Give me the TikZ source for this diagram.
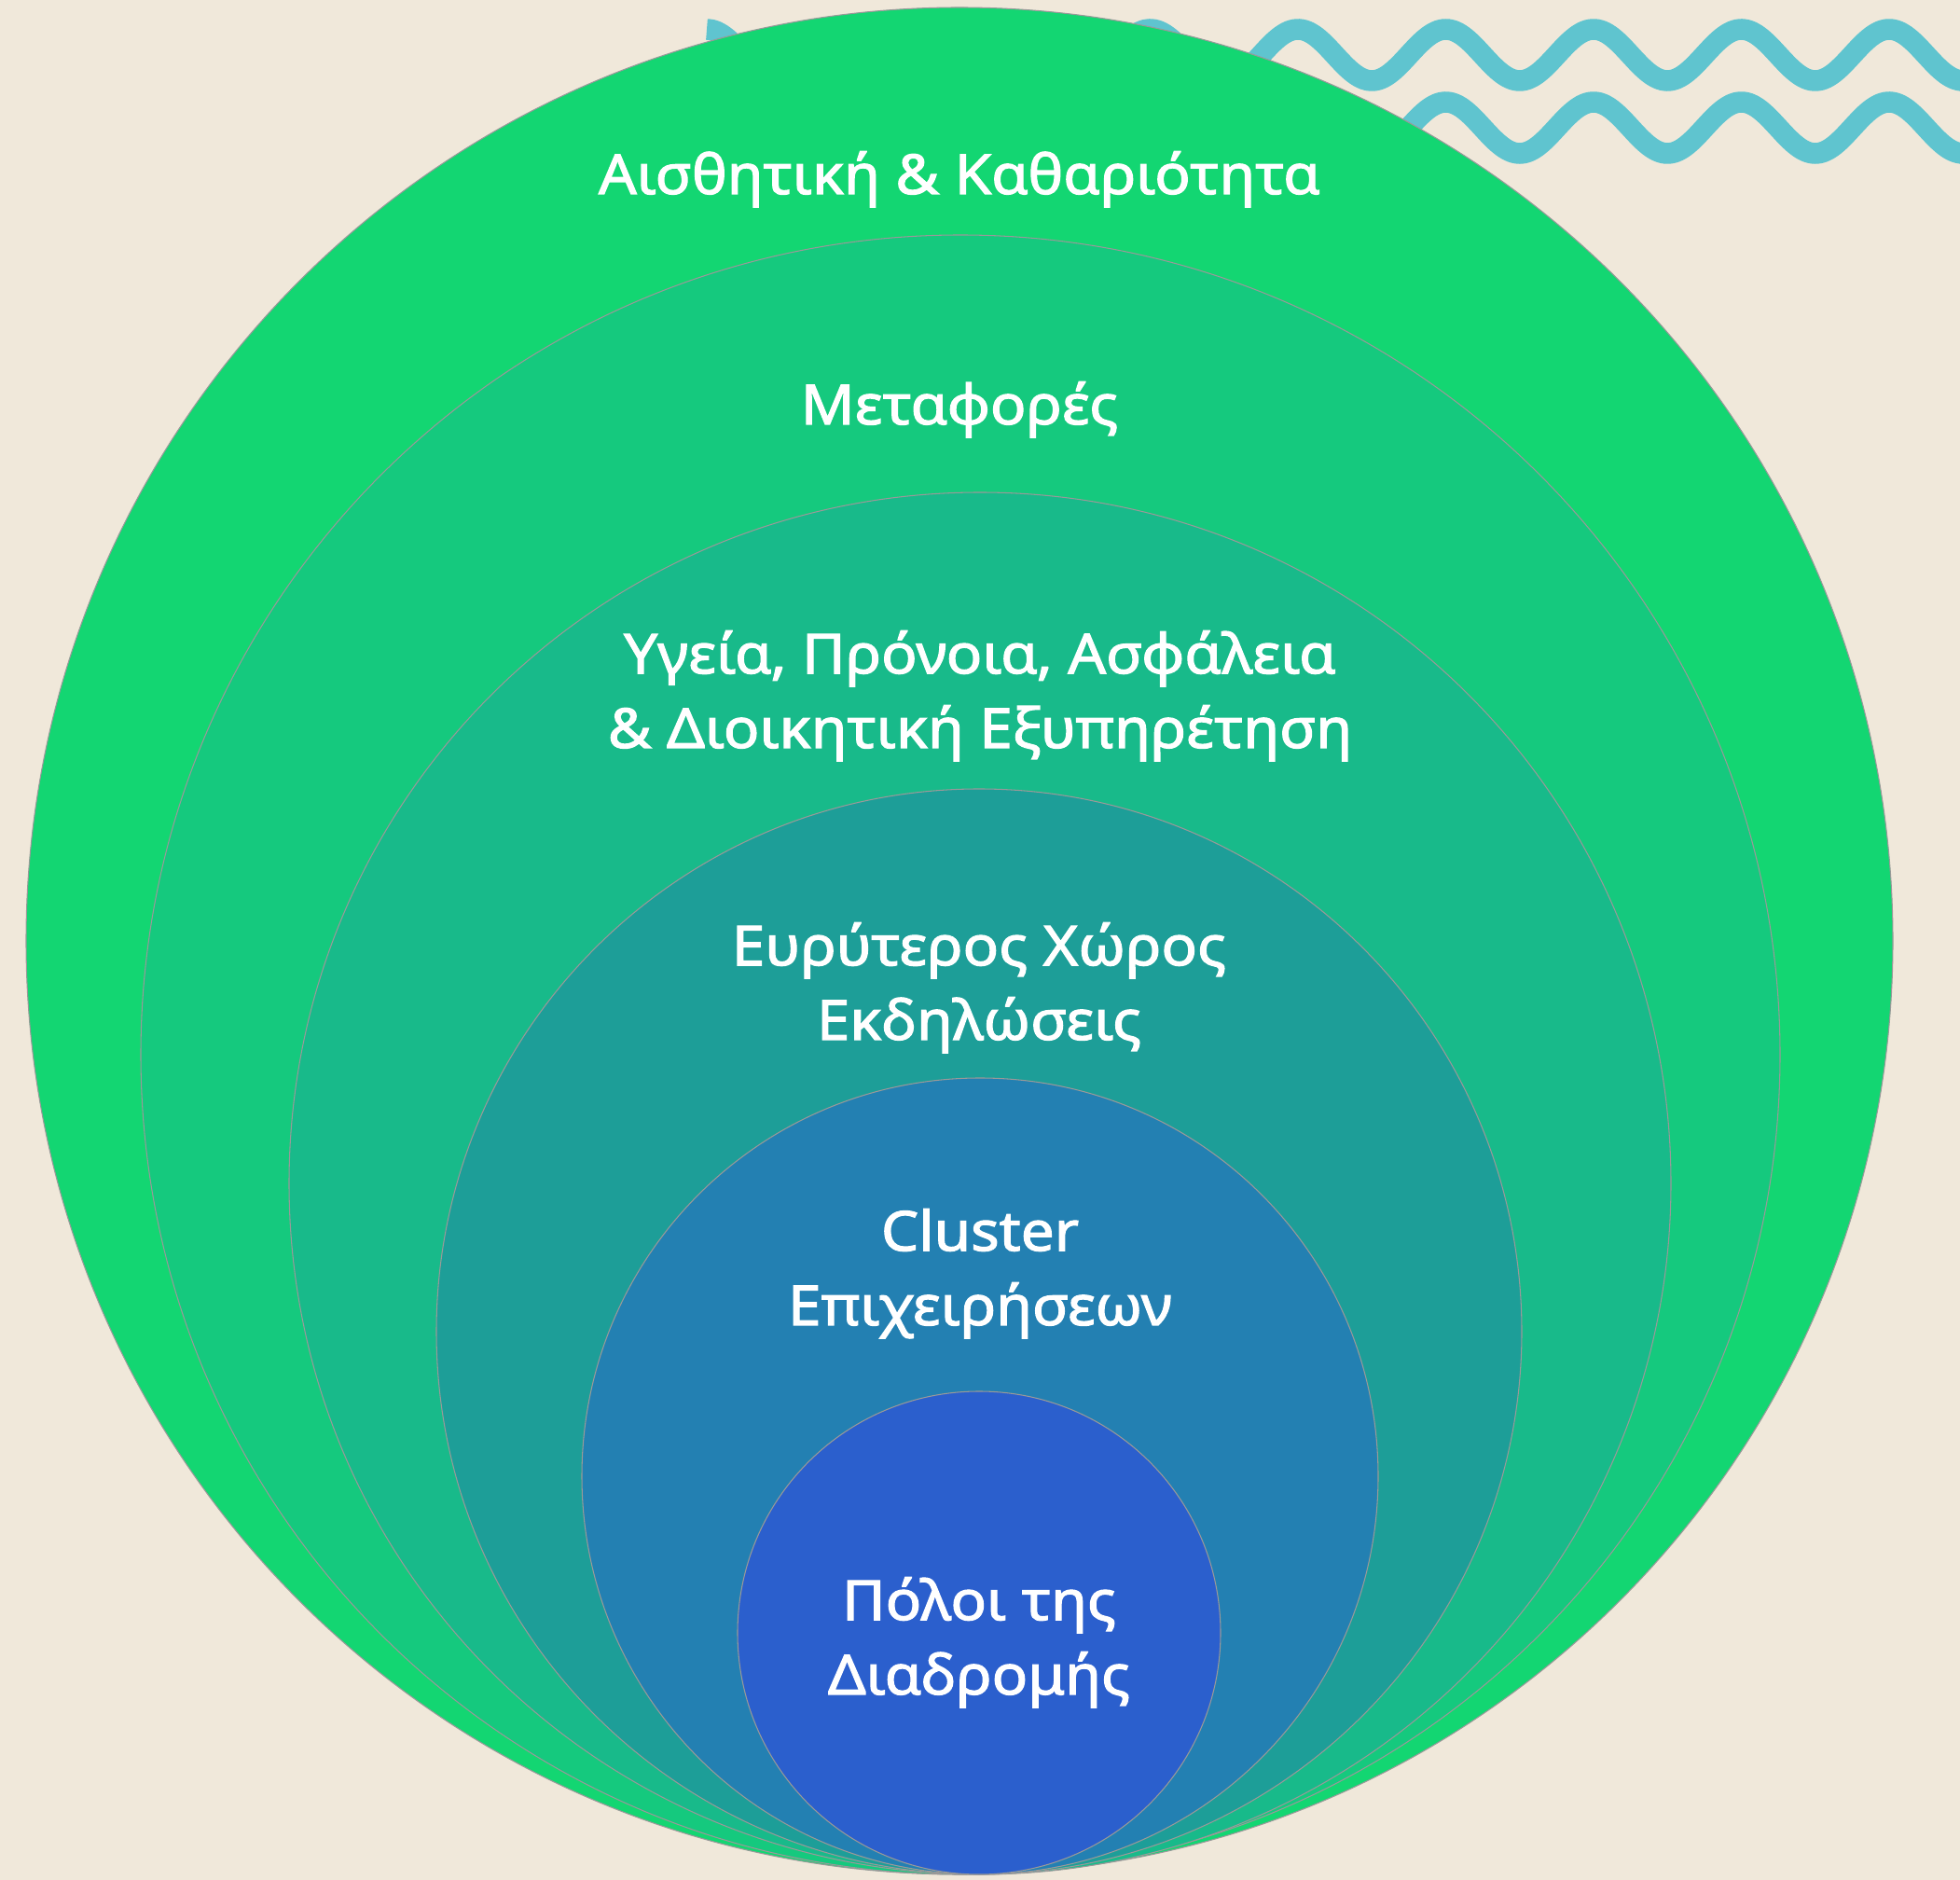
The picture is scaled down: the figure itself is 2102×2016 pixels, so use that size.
\documentclass[tikz,border=0pt]{standalone}
\usepackage{fontspec}
\setmainfont{Noto Sans}
\newfontfamily\ringfont{Noto Sans}[FakeBold=2, FakeStretch=1.08]
\usepackage{xcolor}

\definecolor{paper}{HTML}{F0E8DA}
\definecolor{wavecol}{HTML}{5FC4CF}
\definecolor{ringA}{HTML}{13D672}
\definecolor{ringB}{HTML}{15C97E}
\definecolor{ringC}{HTML}{18BA8A}
\definecolor{ringD}{HTML}{1D9E98}
\definecolor{ringE}{HTML}{2380B2}
\definecolor{ringF}{HTML}{2B5FCD}

\begin{document}
\begin{tikzpicture}[x=0.01cm, y=-0.01cm,
    ring/.style={draw=black!40, line width=0.3pt},
    wave/.style={draw=wavecol, line width=6.4pt},
    lbl/.style={text=white, font=\ringfont\fontsize{16.8}{22.7}\selectfont, align=center, anchor=base, inner sep=0pt}]
    \useasboundingbox (0,0) rectangle (2102,2016);
    \fill[paper] (0,0) rectangle (2102,2016);
    \clip (0,0) rectangle (2102,2016);
    % waves behind the rings
    \draw[wave] plot[domain=758:2140, samples=260, smooth] (\x, {59-27.5*cos(2.2713*(\x-758))});
    \draw[wave] plot[domain=1200:2140, samples=200, smooth] (\x, {137-27.5*cos(2.2713*(\x-758))});
    % rings, outer to inner
    \draw[ring, fill=ringA] (1029,1009) circle[radius=1001];
    \draw[ring, fill=ringB] (1030,1131) circle[radius=879];
    \draw[ring, fill=ringC] (1051,1269) circle[radius=741];
    \draw[ring, fill=ringD] (1050,1428) circle[radius=582];
    \draw[ring, fill=ringE] (1051,1583) circle[radius=427];
    \draw[ring, fill=ringF] (1050,1751) circle[radius=259];
    % labels (base = last line)
    \node[lbl] (aesth) at (1029,208) {Αισθητική \& Καθαριότητα};
    \node[lbl] (metaf) at (1029,455) {Μεταφορές};
    \node[lbl] (ygeia) at (1051,802) {Υγεία, Πρόνοια, Ασφάλεια\\\& Διοικητική Εξυπηρέτηση};
    \node[lbl] (evryt) at (1050,1115) {Ευρύτερος Χώρος\\Εκδηλώσεις};
    \node[lbl] (clust) at (1051,1421) {Cluster\\Επιχειρήσεων};
    \node[lbl] (poloi) at (1050,1817) {Πόλοι της\\Διαδρομής};
\end{tikzpicture}
\end{document}
